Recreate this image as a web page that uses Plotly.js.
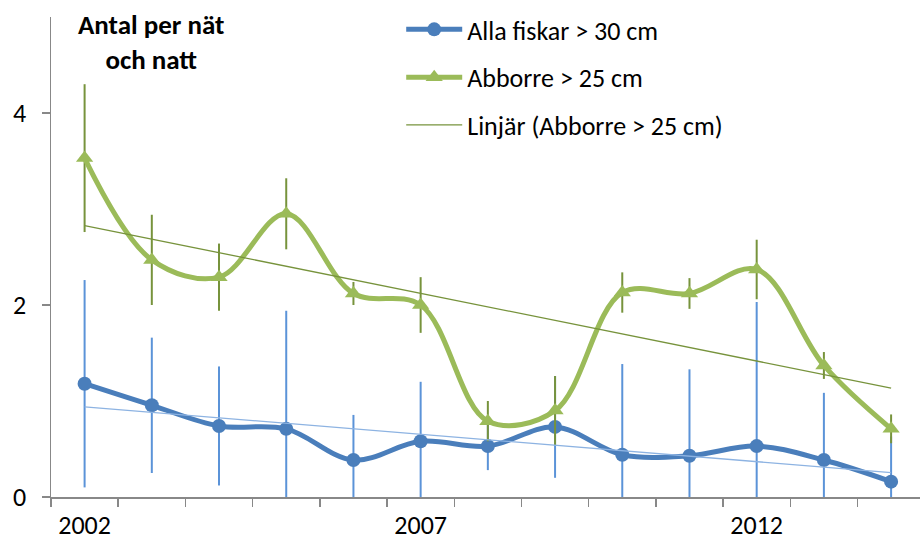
<!DOCTYPE html>
<html>
<head>
<meta charset="utf-8">
<script src="https://cdn.plot.ly/plotly-3.0.1.min.js"></script>
<style>html,body{margin:0;padding:0;background:#fff;}#chart{width:920px;height:542px;}</style>
</head>
<body>
<div id="chart"></div>
<script>
const years = [2002, 2003, 2004, 2005, 2006, 2007, 2008, 2009, 2010, 2011, 2012, 2013, 2014];
const allaFiskar = [1.18, 0.955, 0.74, 0.71, 0.385, 0.58, 0.53, 0.73, 0.44, 0.43, 0.53, 0.385, 0.16];
const allaFiskarErr = [1.08, 0.705, 0.62, 1.23, 0.47, 0.62, 0.25, 0.53, 0.945, 0.9, 1.5, 0.7, 0.47];
const abborre = [3.53, 2.47, 2.29, 2.95, 2.12, 2.0, 0.79, 0.9, 2.13, 2.12, 2.37, 1.37, 0.71];
const abborreErr = [0.77, 0.47, 0.35, 0.37, 0.12, 0.29, 0.21, 0.36, 0.21, 0.16, 0.31, 0.14, 0.15];
const seriesNames = ['Alla fiskar > 30 cm', 'Abborre > 25 cm', 'Linjär (Abborre > 25 cm)'];
const titleLines = ['Antal per nät', 'och natt'];
const yTicks = [0, 2, 4];
const xLabelYears = [2002, 2007, 2012];

function linFit(xs, ys) {
  const n = xs.length;
  const mx = xs.reduce((a, b) => a + b, 0) / n;
  const my = ys.reduce((a, b) => a + b, 0) / n;
  let sxy = 0, sxx = 0;
  for (let i = 0; i < n; i++) { sxy += (xs[i] - mx) * (ys[i] - my); sxx += (xs[i] - mx) ** 2; }
  const b = sxy / sxx;
  return xs.map(x => my + b * (x - mx));
}
const trendX = [years[0], years[years.length - 1]];
const blueFit = linFit(years, allaFiskar);
const greenFit = linFit(years, abborre);
const blueTrend = [blueFit[0], blueFit[blueFit.length - 1]];
const greenTrend = [greenFit[0], greenFit[greenFit.length - 1]];

const FONT = 'Carlito, Lato, "Open Sans", sans-serif';
const FS = 26;

const traces = [
  {
    x: years, y: allaFiskar, name: seriesNames[0], type: 'scatter', mode: 'lines+markers',
    legendgroup: 'a',
    line: {color: '#4a7ebb', width: 5, shape: 'spline', smoothing: 1},
    marker: {symbol: 'circle', size: 14, color: '#4a7ebb'},
    error_y: {type: 'data', array: allaFiskarErr, visible: true, color: '#5b93d8', thickness: 2, width: 0}
  },
  {
    x: years, y: abborre, name: seriesNames[1], type: 'scatter', mode: 'lines+markers',
    legendgroup: 'b',
    line: {color: '#9bbb59', width: 5, shape: 'spline', smoothing: 1},
    marker: {symbol: 'triangle-up', size: 15, color: '#9bbb59'},
    error_y: {type: 'data', array: abborreErr, visible: true, color: '#77933c', thickness: 2, width: 0}
  },
  {
    x: trendX, y: blueTrend, type: 'scatter', mode: 'lines', showlegend: false,
    line: {color: '#8db3e2', width: 1.3}
  },
  {
    x: trendX, y: greenTrend, name: seriesNames[2], type: 'scatter', mode: 'lines',
    legendgroup: 'c',
    line: {color: '#77933c', width: 1.3}
  }
];

const layout = {
  width: 920, height: 542,
  margin: {l: 51, r: 0, t: 17, b: 45, pad: 0},
  paper_bgcolor: '#ffffff', plot_bgcolor: '#ffffff',
  font: {family: FONT, size: FS, color: '#000'},
  showlegend: true,
  legend: {
    x: 0.403, y: 1.023, xanchor: 'left', yanchor: 'top',
    font: {family: FONT, size: FS, color: '#000'},
    bgcolor: 'rgba(0,0,0,0)', traceorder: 'grouped', tracegroupgap: 11,
    itemwidth: 56
  },
  xaxis: {
    range: [2001.5, 2014.43], showgrid: false, zeroline: false,
    showline: true, linecolor: '#888888', linewidth: 1.5,
    tickmode: 'array', tickvals: xLabelYears, ticktext: xLabelYears.map(String),
    ticks: '', ticklabelstandoff: 4,
    tickfont: {family: FONT, size: FS, color: '#000'},
    minor: {tick0: 2001.5, dtick: 1, ticks: 'outside', ticklen: 8, tickcolor: '#888888', tickwidth: 1.5, showgrid: false}
  },
  yaxis: {
    range: [0, 5], showgrid: false, zeroline: false,
    showline: true, linecolor: '#888888', linewidth: 1.5,
    tickmode: 'array', tickvals: yTicks, ticktext: yTicks.map(String),
    ticks: 'outside', ticklen: 8, tickcolor: '#888888', tickwidth: 1.5,
    ticklabelstandoff: 10,
    tickfont: {family: FONT, size: FS, color: '#000'}
  },
  annotations: [{
    text: '<b>' + titleLines.join('<br>') + '</b>', xref: 'paper', yref: 'paper',
    x: (151 - 51) / 869, y: (497 - 42) / 480, xanchor: 'center', yanchor: 'middle',
    showarrow: false, align: 'center',
    font: {family: FONT, size: 27, color: '#000'}
  }]
};

Plotly.newPlot('chart', traces, layout, {displayModeBar: false, staticPlot: true});
</script>
</body>
</html>
